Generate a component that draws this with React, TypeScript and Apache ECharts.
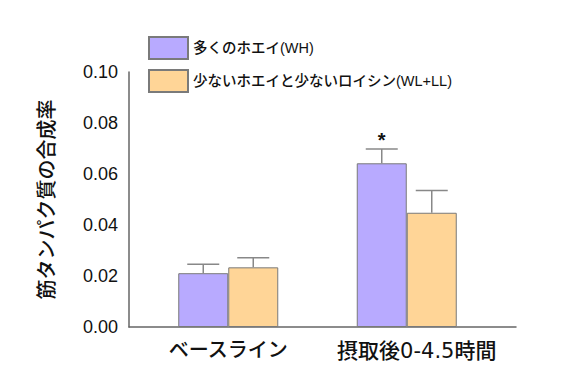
import React, { useEffect, useRef } from "react";
import * as echarts from "echarts";

const categories = ["ベースライン", "摂取後0-4.5時間"];
const seriesNames = ["多くのホエイ(WH)", "少ないホエイと少ないロイシン(WL+LL)"];
const whValues = [0.0211, 0.0642];
const whErrorTop = [0.0246, 0.0698];
const wlValues = [0.0234, 0.0448];
const wlErrorTop = [0.0272, 0.0535];
const whSignificance = ["", "*"];
const yTicks = { min: 0, max: 0.1, interval: 0.02 };
const yAxisName = "筋タンパク質の合成率";

const FONT = "'Liberation Sans', 'Noto Sans CJK JP', sans-serif";
const WIDE_FONT = "'DejaVu Sans', 'Noto Sans CJK JP', sans-serif";
const COLORS = ["#b8aaff", "#ffd597"];
const BAR_W = 50;

export default function App() {
  const ref = useRef<HTMLDivElement>(null);
  useEffect(() => {
    document.body.style.margin = "0";
    if (!ref.current) return;
    const chart = echarts.init(ref.current, null, { renderer: "svg" });
    const errData: any[] = [];
    categories.forEach((_, i) => {
      errData.push([i, whValues[i], whErrorTop[i], 0, whSignificance[i]]);
      errData.push([i, wlValues[i], wlErrorTop[i], 1, ""]);
    });
    chart.setOption({
      animation: false,
      legend: {
        orient: "vertical",
        left: 148,
        top: 36,
        padding: 0,
        itemWidth: 39,
        itemHeight: 22,
        itemGap: 9,
        icon: "rect",
        textStyle: { fontSize: 14.5, color: "#111", fontFamily: FONT, fontWeight: 500 },
        data: seriesNames,
      },
      grid: [
        { left: 139, right: 83, top: 72, bottom: 61 },
        { left: 129, right: 63, top: 72, bottom: 61 },
      ],
      xAxis: [
        {
          type: "category",
          gridIndex: 0,
          data: categories,
          axisLine: { show: false },
          axisTick: { show: false },
          axisLabel: {
            interval: 0,
            fontSize: 20,
            color: "#111",
            fontFamily: WIDE_FONT,
            fontWeight: 500,
            margin: 13,
            formatter: (v: string, i: number) => (i === 1 ? "{s|" + v + "}" : v),
            rich: {
              s: {
                fontSize: 21,
                color: "#111",
                fontFamily: WIDE_FONT,
                fontWeight: 500,
                padding: [0, 0, 0, 20],
              },
            },
          },
        },
        {
          type: "value",
          gridIndex: 1,
          min: 0,
          max: 1,
          axisLine: { show: true, lineStyle: { color: "#666", width: 1.5 } },
          axisTick: { show: false },
          axisLabel: { show: false },
          splitLine: { show: false },
        },
      ],
      yAxis: [
        {
          type: "value",
          gridIndex: 0,
          min: yTicks.min,
          max: yTicks.max,
          interval: yTicks.interval,
          show: false,
          splitLine: { show: false },
        },
        {
          type: "value",
          gridIndex: 1,
          min: yTicks.min,
          max: yTicks.max,
          interval: yTicks.interval,
          name: yAxisName,
          nameLocation: "middle",
          nameGap: 72,
          nameTextStyle: { fontSize: 20, color: "#111", fontFamily: FONT, fontWeight: 500 },
          axisLine: { show: true, lineStyle: { color: "#666", width: 1.5 } },
          axisTick: { show: false },
          splitLine: { show: false },
          axisLabel: {
            fontSize: 18,
            color: "#111",
            fontFamily: FONT,
            margin: 11,
            formatter: (v: number) => v.toFixed(2),
          },
        },
      ],
      series: [
        {
          name: seriesNames[0],
          type: "bar",
          xAxisIndex: 0,
          yAxisIndex: 0,
          data: whValues,
          barWidth: BAR_W,
          barGap: "0%",
          itemStyle: { color: COLORS[0], borderColor: "#7a7a7a", borderWidth: 1 },
        },
        {
          name: seriesNames[1],
          type: "bar",
          xAxisIndex: 0,
          yAxisIndex: 0,
          data: wlValues,
          barWidth: BAR_W,
          barGap: "0%",
          itemStyle: { color: COLORS[1], borderColor: "#7a7a7a", borderWidth: 1 },
        },
        {
          type: "custom",
          xAxisIndex: 0,
          yAxisIndex: 0,
          data: errData,
          z: 5,
          renderItem: (params: any, api: any) => {
            const cat = api.value(0);
            const base = api.coord([cat, api.value(1)]);
            const top = api.coord([cat, api.value(2)]);
            const s = api.value(3);
            const x = base[0] + (s === 0 ? -BAR_W / 2 : BAR_W / 2);
            const stroke = { stroke: "#888", lineWidth: 1.5 };
            const children: any[] = [
              { type: "line", shape: { x1: x, y1: base[1], x2: x, y2: top[1] }, style: stroke },
              { type: "line", shape: { x1: x - 16, y1: top[1], x2: x + 16, y2: top[1] }, style: stroke },
            ];
            const sig = errData[params.dataIndex][4];
            if (sig) {
              children.push({
                type: "text",
                style: {
                  text: sig,
                  x: x,
                  y: top[1] + 1,
                  align: "center",
                  verticalAlign: "bottom",
                  fontSize: 20,
                  fontWeight: "bold",
                  fontFamily: FONT,
                  fill: "#111",
                },
              });
            }
            return { type: "group", children };
          },
        },
      ],
    });
    return () => chart.dispose();
  }, []);
  return <div ref={ref} style={{ width: 579, height: 388 }} />;
}
